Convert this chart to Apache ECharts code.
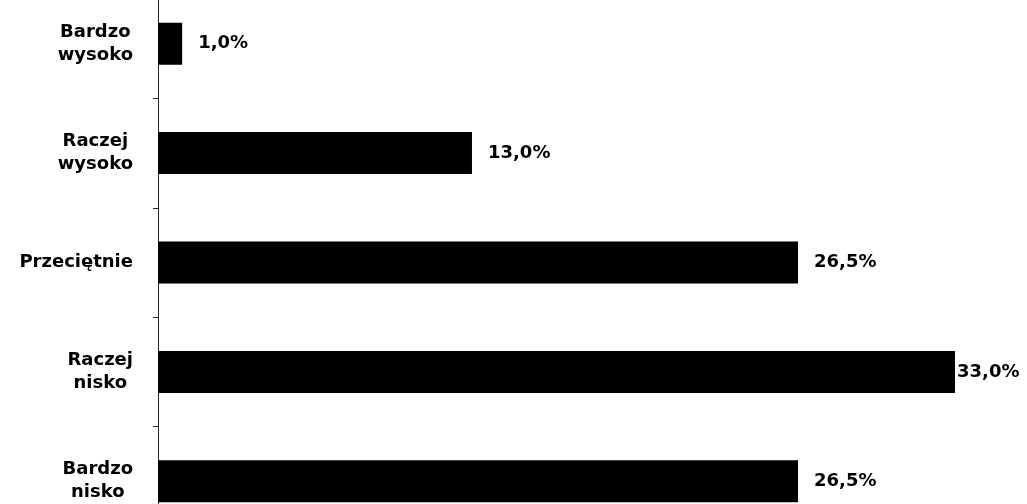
<!DOCTYPE html>
<html><head><meta charset="utf-8">
<script src="https://cdn.jsdelivr.net/npm/echarts@6/dist/echarts.min.js"></script>
<style>html,body{margin:0;padding:0;background:#fff}#c{width:1027px;height:504px}</style>
</head><body><div id="c"></div>
<script>
var categories = [['Bardzo', 'wysoko'], ['Raczej', 'wysoko'], ['Przeciętnie'], ['Raczej', 'nisko'], ['Bardzo', 'nisko']];
var values = [1.0, 13.0, 26.5, 33.0, 26.5];

var FONT = 'DejaVu Sans';
var chart = echarts.init(document.getElementById('c'));
var maxVal = Math.max.apply(null, values);
chart.setOption({
  animation: false,
  backgroundColor: '#ffffff',
  grid: { left: 158, right: 72, top: -11, height: 547, outerBoundsMode: 'none', containLabel: false },
  xAxis: { type: 'value', min: 0, max: 33, show: false },
  yAxis: {
    type: 'category',
    inverse: true,
    data: categories.map(function (c) { return c.join('\n'); }),
    axisLine: { show: true, lineStyle: { color: '#222', width: 1 } },
    axisTick: { show: true, length: 5, lineStyle: { color: '#222' } },
    axisLabel: {
      margin: 25,
      formatter: function (v) {
        return v.split('\n').map(function (s) { return '{a|' + s + '}'; }).join('\n');
      },
      rich: {
        a: { align: 'center', fontFamily: FONT, fontSize: 18, fontWeight: 'bold', color: '#000', lineHeight: 23 }
      }
    }
  },
  series: [{
    type: 'bar',
    data: values.map(function (v) {
      return v === maxVal ? { value: v, label: { distance: 2 } } : v;
    }),
    barWidth: 42,
    itemStyle: { color: '#000' },
    label: {
      show: true,
      position: 'right',
      distance: 16,
      fontFamily: FONT, fontSize: 18, fontWeight: 'bold', color: '#000',
      formatter: function (p) { return p.value.toFixed(1).replace('.', ',') + '%'; }
    }
  }]
});
</script></body></html>
